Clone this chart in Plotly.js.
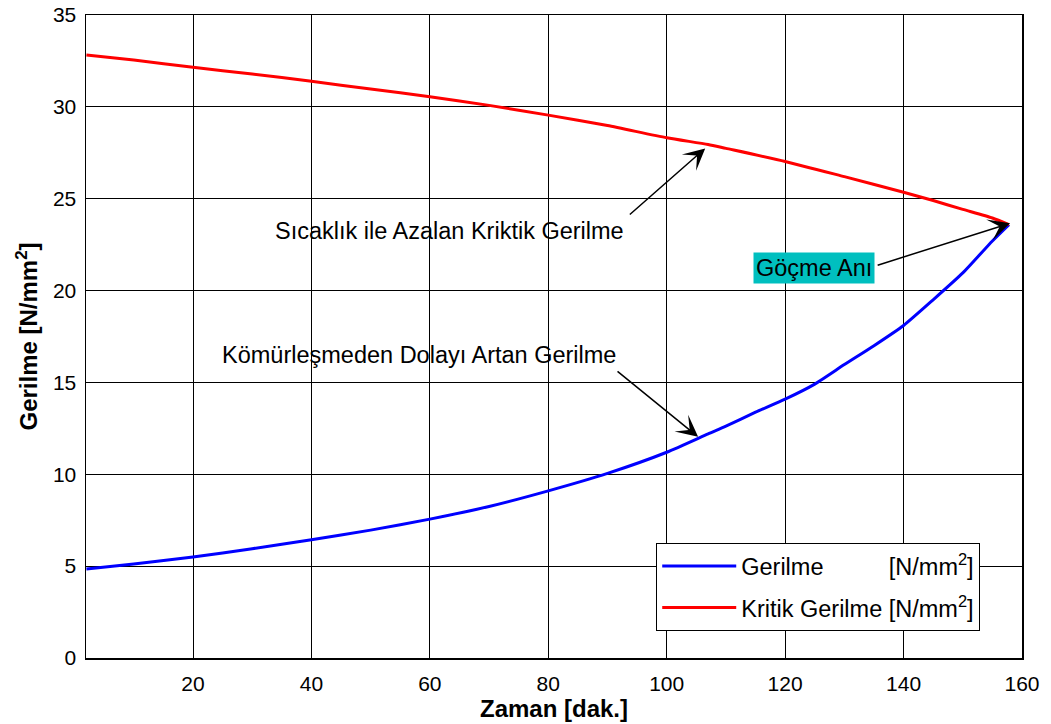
<!DOCTYPE html>
<html>
<head>
<meta charset="utf-8">
<script src="https://cdn.plot.ly/plotly-3.0.1.min.js"></script>
<style>html,body{margin:0;padding:0;background:#fff;}#chart{width:1051px;height:724px;}</style>
</head>
<body>
<div id="chart"></div>
<script>
// Time [min]
const timeRed = [2, 10, 20, 30, 40, 50, 60, 70, 80, 90, 100, 107, 110, 120, 130, 140, 145, 150, 155, 157.8];
const kritikGerilme = [32.82, 32.55, 32.15, 31.79, 31.39, 30.97, 30.55, 30.08, 29.55, 28.98, 28.32, 27.95, 27.74, 27.03, 26.2, 25.35, 24.9, 24.42, 23.95, 23.59];
const timeBlue = [2, 10, 20, 30, 40, 50, 60, 70, 80, 90, 100, 107, 110, 115, 120, 125, 130, 135, 140, 145, 150, 155, 157.8];
const gerilme = [4.84, 5.12, 5.5, 5.95, 6.44, 6.96, 7.56, 8.25, 9.1, 10.05, 11.2, 12.2, 12.62, 13.38, 14.09, 14.91, 15.97, 17.0, 18.1, 19.5, 20.96, 22.7, 23.59];
const xTicks = [20, 40, 60, 80, 100, 120, 140, 160];
const yTicks = [0, 5, 10, 15, 20, 25, 30, 35];

const FONT = '"Liberation Sans", Arial, Helvetica, sans-serif';

const traces = [
  {x: timeBlue, y: gerilme, type: 'scatter', mode: 'lines', legendgroup: 'g1',
   name: 'Gerilme\u00a0\u00a0\u00a0\u00a0\u00a0\u00a0\u00a0\u00a0\u00a0\u00a0[N/mm<sup>2</sup>]',
   line: {color: '#0000FF', width: 3, shape: 'spline', smoothing: 0.6}},
  {x: timeRed, y: kritikGerilme, type: 'scatter', mode: 'lines', legendgroup: 'g2',
   name: 'Kritik Gerilme [N/mm<sup>2</sup>]',
   line: {color: '#FF0000', width: 3, shape: 'spline', smoothing: 0.6}}
];

const arrowBase = {xref: 'x', yref: 'y', axref: 'x', ayref: 'y', showarrow: true,
  text: ' ', font: {size: 8}, arrowhead: 3, arrowsize: 2.4, arrowwidth: 1.5,
  arrowcolor: '#000', standoff: 0, startstandoff: 0};

const layout = {
  width: 1051, height: 724,
  margin: {l: 86, r: 29, t: 15, b: 66},
  paper_bgcolor: '#fff', plot_bgcolor: '#fff',
  font: {family: FONT, size: 21, color: '#000'},
  showlegend: true,
  legend: {x: 0.609, y: 0.179, xanchor: 'left', yanchor: 'top',
    bgcolor: '#fff', bordercolor: '#000', borderwidth: 1.2,
    font: {family: FONT, size: 23.5, color: '#000'}, itemwidth: 74, tracegroupgap: 8},
  xaxis: {range: [1.93, 160], tickvals: xTicks, ticks: 'inside', ticklen: 5, tickcolor: '#000',
    showline: true, linecolor: '#000', linewidth: 1.5, mirror: 'ticks',
    showgrid: true, gridcolor: '#000', gridwidth: 1, zeroline: false,
    tickfont: {family: FONT, size: 21}, ticklabelstandoff: 6,
    title: {text: 'Zaman [dak.]', font: {family: FONT, size: 24, weight: 'bold'}, standoff: 4}},
  yaxis: {range: [0, 35], tickvals: yTicks, ticks: 'inside', ticklen: 5, tickcolor: '#000',
    showline: true, linecolor: '#000', linewidth: 1.5, mirror: 'ticks',
    showgrid: true, gridcolor: '#000', gridwidth: 1, zeroline: false,
    tickfont: {family: FONT, size: 21}, ticklabelstandoff: 4,
    title: {text: 'Gerilme [N/mm<sup>2</sup>]', font: {family: FONT, size: 24, weight: 'bold'}, standoff: 8}},
  annotations: [
    {xref: 'x', yref: 'y', x: 63.3, y: 23.24, showarrow: false,
     text: 'Sıcaklık ile Azalan Kriktik Gerilme', font: {family: FONT, size: 23.5}},
    Object.assign({}, arrowBase, {x: 106.5, y: 27.74, ax: 93.35, ay: 24.02}),
    {xref: 'x', yref: 'y', x: 58.17, y: 16.49, showarrow: false,
     text: 'Kömürleşmeden Dolayı Artan Gerilme', font: {family: FONT, size: 23.5}},
    Object.assign({}, arrowBase, {x: 105.3, y: 12.04, ax: 91.27, ay: 15.71}),
    Object.assign({}, arrowBase, {x: 157.98, y: 23.66, ax: 135.2, ay: 21.34}),
    {xref: 'x', yref: 'y', x: 124.8, y: 21.23, showarrow: false,
     text: 'Göçme Anı', font: {family: FONT, size: 23.5}, bgcolor: '#00BFBF', borderpad: 2}
  ]
};

Plotly.newPlot('chart', traces, layout, {displayModeBar: false, staticPlot: true});
</script>
</body>
</html>
